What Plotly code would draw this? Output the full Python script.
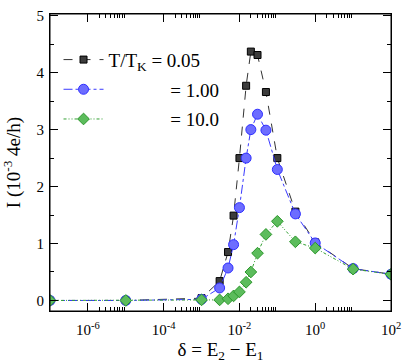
import plotly.graph_objects as go

delta = [1e-7, 1e-5, 1e-3, 3e-3, 5e-3, 7e-3, 1e-2, 1.5e-2, 2e-2, 3e-2, 5e-2, 0.1, 0.3, 1, 10, 100]
I_005 = [0.0, 0.0, 0.04, 0.34, 0.85, 1.49, 2.50, 3.77, 4.37, 4.31, 3.66, 2.50, 1.56, 1.02, 0.56, 0.46]
I_100 = [0.0, 0.0, 0.02, 0.22, 0.57, 0.98, 1.63, 2.50, 3.00, 3.27, 2.99, 2.30, 1.52, 1.01, 0.56, 0.46]
I_10 = [0.0, 0.0, 0.01, 0.01, 0.03, 0.08, 0.15, 0.32, 0.50, 0.83, 1.16, 1.39, 1.03, 0.92, 0.55, 0.46]

xtick_vals = [1e-6, 1e-4, 1e-2, 1, 100]
xtick_text = ["10<sup>-6</sup>", "10<sup>-4</sup>", "10<sup>-2</sup>", "10<sup>0</sup>", "10<sup>2</sup>"]
xminor_vals = [m * 10 ** e for e in (-6, -4, -2, 0) for m in range(2, 10)]
ytick_vals = [0, 1, 2, 3, 4, 5]

FONT = "Liberation Serif"
PAD = "&nbsp;" * 12

fig = go.Figure()
fig.add_trace(go.Scatter(
    x=delta, y=I_005, mode="lines+markers",
    name="T/T<sub>K</sub> = 0.05", legendgroup="a",
    line=dict(color="#333333", width=1, dash="dash"),
    marker=dict(symbol="square", size=7, color="#3c3c3c", line=dict(color="#000000", width=1)),
))
fig.add_trace(go.Scatter(
    x=delta, y=I_100, mode="lines+markers",
    name=PAD + " = 1.00", legendgroup="b",
    line=dict(color="#3a3aff", width=1, dash="dashdot"),
    marker=dict(symbol="circle", size=10, color="#6d6dff", line=dict(color="#3030ff", width=1)),
))
fig.add_trace(go.Scatter(
    x=delta, y=I_10, mode="lines+markers",
    name=PAD + " = 10.0", legendgroup="c",
    line=dict(color="#33a033", width=1, dash="3px,2px,1px,2px,1px,2px"),
    marker=dict(symbol="diamond", size=9, color="#5cbc5c", line=dict(color="#2a962a", width=1)),
))
# invisible companion trace so the top x axis is drawn
fig.add_trace(go.Scatter(
    x=delta, y=I_10, xaxis="x2", mode="lines", opacity=0,
    showlegend=False, hoverinfo="skip",
))

fig.update_layout(
    width=409, height=364,
    margin=dict(l=50, r=11, t=8, b=47),
    paper_bgcolor="white", plot_bgcolor="white",
    font=dict(family=FONT, color="black", size=15),
    showlegend=True,
    legend=dict(x=0.025, y=0.91, xanchor="left", yanchor="top",
                bgcolor="rgba(0,0,0,0)", font=dict(family=FONT, size=19, color="black"),
                tracegroupgap=2, itemwidth=40),
    shapes=[dict(type="rect", xref="paper", yref="paper", x0=0, x1=1, y0=0, y1=1,
                 line=dict(color="black", width=1), fillcolor="rgba(0,0,0,0)", layer="above")],
)
axis_common = dict(
    type="log", range=[-7, 2],
    tickvals=xtick_vals,
    ticks="inside", ticklen=8, tickwidth=1, tickcolor="black",
    minor=dict(tickvals=xminor_vals, ticks="inside", ticklen=4, tickcolor="black"),
    showline=True, linecolor="black", linewidth=1,
    showgrid=False, zeroline=False,
)
fig.update_layout(
    xaxis=dict(
        **axis_common,
        ticktext=xtick_text, mirror=False,
        tickfont=dict(family=FONT, size=15),
        ticklabelstandoff=5,
        title=dict(text="δ = E<sub>2</sub> − E<sub>1</sub>", font=dict(family=FONT, size=19), standoff=5),
    ),
    xaxis2=dict(
        **axis_common,
        overlaying="x", side="top", anchor="y", showticklabels=False,
    ),
)
fig.update_yaxes(
    range=[-0.185, 5.03],
    tickvals=ytick_vals,
    ticks="inside", ticklen=8, tickwidth=1, tickcolor="black",
    minor=dict(dtick=0.5, ticks="inside", ticklen=4, tickcolor="black"),
    showline=True, linecolor="black", linewidth=1, mirror="ticks",
    showgrid=False, zeroline=False,
    tickfont=dict(family=FONT, size=15),
    ticklabelstandoff=2,
    title=dict(text="I (10<sup>-3</sup> 4e/h)", font=dict(family=FONT, size=19), standoff=10),
)

fig.write_html("out.html", config={"displayModeBar": False})
with open("out.html", "r", encoding="utf-8") as f:
    html = f.read()
html = html.replace("<head>", "<head><style>html,body{margin:0;padding:0;overflow:hidden;}</style>", 1)
with open("out.html", "w", encoding="utf-8") as f:
    f.write(html)
